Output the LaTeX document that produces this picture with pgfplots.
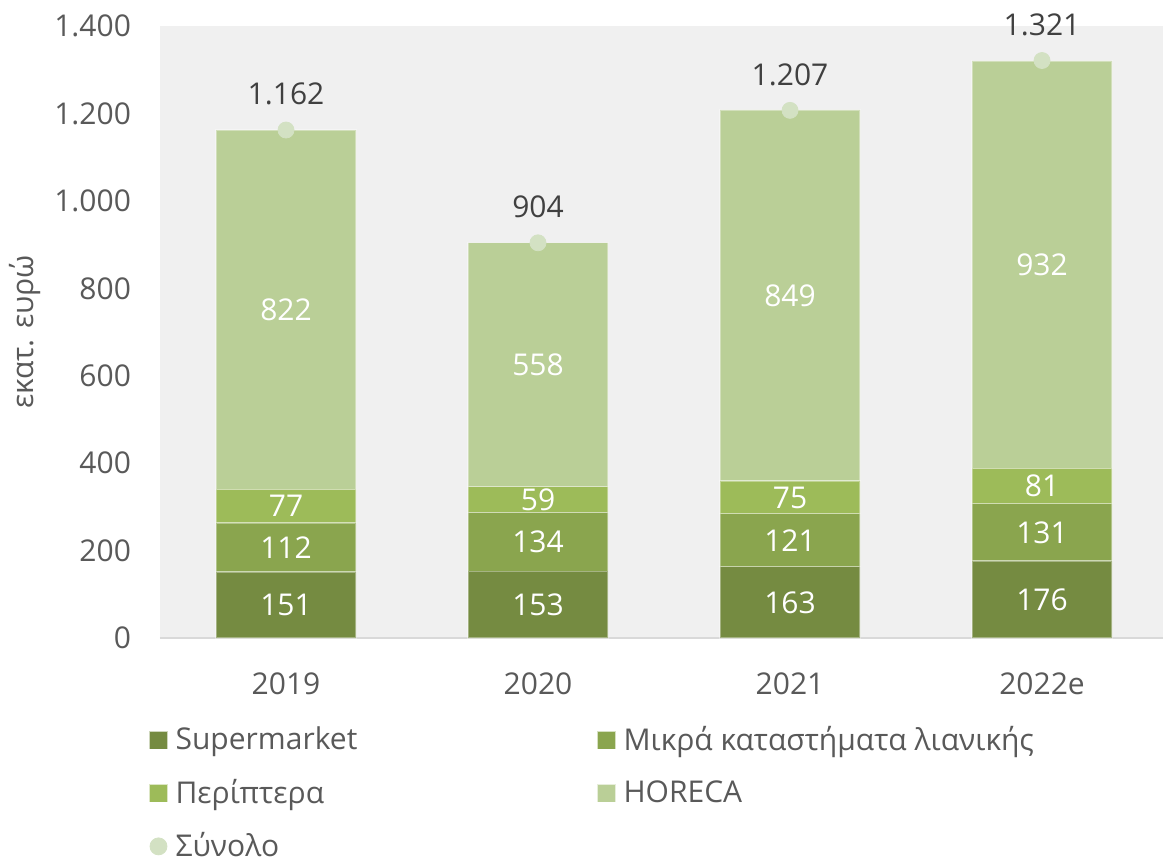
\documentclass[border=0pt]{standalone}
\usepackage{pgfplots}
\pgfplotsset{compat=1.18}
\usepackage{fontspec}
\setmainfont{Open Sans}
\definecolor{cSup}{HTML}{758B41}
\definecolor{cMik}{HTML}{8AA54E}
\definecolor{cPer}{HTML}{9DBB59}
\definecolor{cHor}{HTML}{BACF97}
\definecolor{cTot}{HTML}{D3E1C3}
\definecolor{bg}{HTML}{F0F0F0}
\definecolor{txt}{HTML}{595959}
\definecolor{txtd}{HTML}{404040}
\definecolor{lineg}{HTML}{D9D9D9}
\pgfplotsset{
  base/.style={
    scale only axis, width=501.5pt, height=306pt,
    xmin=-0.5, xmax=3.48, ymin=0, ymax=1400,
    /pgf/number format/.cd, 1000 sep={.}, assume math mode=true, /pgfplots/.cd,
  },
  seg/.style={fill=#1, draw=white, draw opacity=0.35, line width=0.6pt,
    legend image code/.code={\fill[#1] (0pt,-4.25pt) rectangle (8.5pt,4.25pt);}},
}
\begin{document}
\begin{tikzpicture}
\begin{axis}[base,
  ybar stacked, bar width=70pt,
  axis background/.style={fill=bg},
  axis x line*=bottom, axis y line*=left,
  x axis line style={draw=lineg, line width=0.8pt, -},
  y axis line style={draw=none},
  major tick length=0pt,
  xtick={0,1,2,3}, xticklabels={2019,2020,2021,2022e},
  ytick={0,200,...,1400},
  tick label style={font=\fontsize{15}{18}\selectfont, text=txt},
  xticklabel style={yshift=-14pt},
  yticklabel style={xshift=-11pt},
  ylabel={εκατ. ευρώ}, ylabel style={font=\fontsize{15}{18}\selectfont, text=txt},
  nodes near coords,
  every node near coord/.append style={font=\fontsize{15}{18}\selectfont, text=white, anchor=center},
  legend columns=2,
  legend cell align=left,
  legend style={at={(axis description cs:0,0)}, anchor=north west, xshift=-5.5pt, yshift=-42pt,
    draw=none, fill=none, inner sep=0pt, row sep=9pt,
    font=\fontsize{15}{18}\selectfont, text=txt,
    /tikz/every odd column/.append style={column sep=2pt},
    /tikz/every even column/.append style={column sep=118pt}},
]
\addplot[seg=cSup] coordinates {(0,151) (1,153) (2,163) (3,176)};
\addlegendentry{Supermarket}
\addplot[seg=cMik] coordinates {(0,112) (1,134) (2,121) (3,131)};
\addlegendentry{Μικρά καταστήματα λιανικής}
\addplot[seg=cPer] coordinates {(0,77) (1,59) (2,75) (3,81)};
\addlegendentry{Περίπτερα}
\addplot[seg=cHor] coordinates {(0,822) (1,558) (2,849) (3,932)};
\addlegendentry{HORECA}
\addlegendimage{legend image code/.code={\fill[cTot] (4.25pt,0pt) circle (4.25pt);}}
\addlegendentry{Σύνολο}
\end{axis}
\begin{axis}[base, hide axis,
  nodes near coords,
  every node near coord/.append style={font=\fontsize{15}{18}\selectfont, text=txtd, anchor=center, yshift=18pt},
]
\addplot[only marks, color=cTot, mark=*, mark size=4pt, mark options={fill=cTot, draw=cTot}]
  coordinates {(0,1162) (1,904) (2,1207) (3,1321)};
\end{axis}
\pgfresetboundingbox
\path[use as bounding box] (-80pt,-110.5pt) rectangle (501.5pt,319pt);
\end{tikzpicture}
\end{document}
